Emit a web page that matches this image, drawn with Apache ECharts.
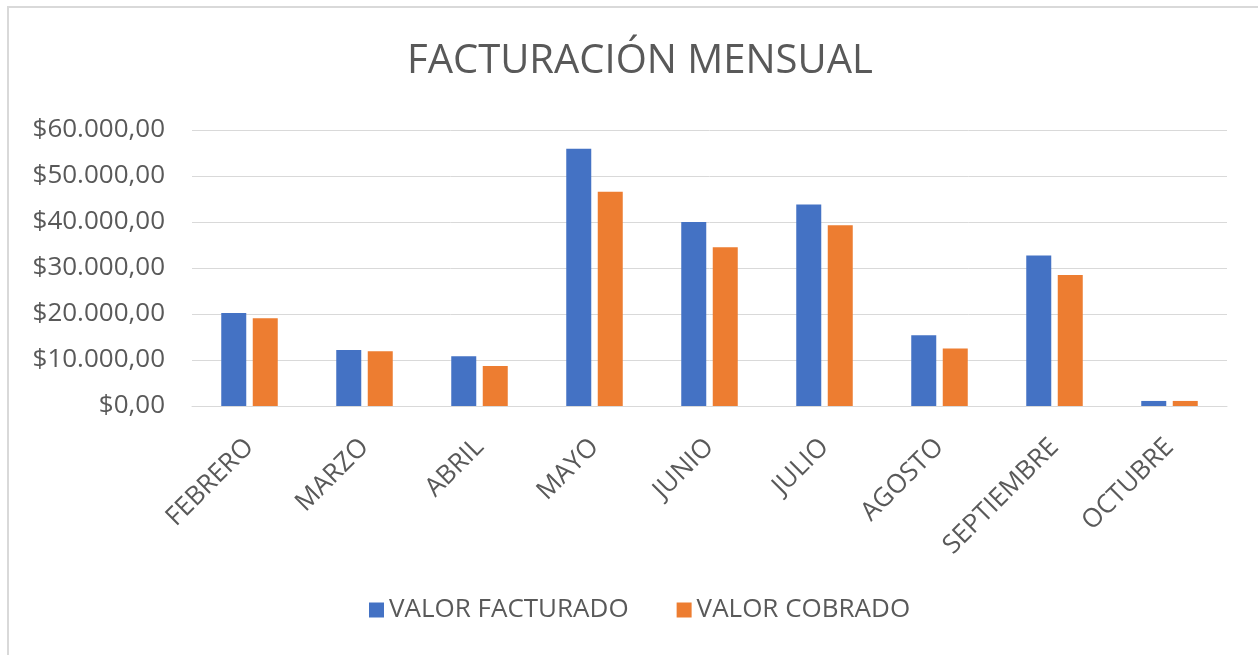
<!DOCTYPE html>
<html>
<head>
<meta charset="utf-8">
<script src="https://cdn.jsdelivr.net/npm/echarts@6/dist/echarts.min.js"></script>
<style>
  html, body { margin: 0; padding: 0; background: #fff; }
  #chart { width: 1258px; height: 655px; }
</style>
</head>
<body>
<div id="chart"></div>
<script>
const months = ['FEBRERO', 'MARZO', 'ABRIL', 'MAYO', 'JUNIO', 'JULIO', 'AGOSTO', 'SEPTIEMBRE', 'OCTUBRE'];
const valorFacturado = [20200, 12200, 10800, 55900, 40000, 43800, 15400, 32700, 1100];
const valorCobrado = [19100, 11900, 8700, 46600, 34500, 39300, 12500, 28500, 1100];

const textColor = '#595959';
const gridColor = '#d9d9d9';
const fontFamily = '"Open Sans", sans-serif';

function money(v) {
    const s = String(Math.round(v)).replace(/\B(?=(\d{3})+(?!\d))/g, '.');
    return '$' + s + ',00';
}

const chart = echarts.init(document.getElementById('chart'));
chart.setOption({
    animation: false,
    textStyle: { fontFamily: fontFamily },
    graphic: [{
        type: 'rect',
        shape: { x: 8, y: 7, width: 1300, height: 700 },
        style: { fill: 'none', stroke: gridColor, lineWidth: 2 },
        silent: true
    }],
    title: {
        text: 'FACTURACIÓN MENSUAL',
        left: 402,
        top: 37,
        textStyle: { color: textColor, fontSize: 40, fontWeight: 'normal', fontFamily: fontFamily }
    },
    legend: {
        top: 592,
        left: 364,
        itemWidth: 15,
        itemHeight: 15,
        itemGap: 48,
        icon: 'rect',
        textStyle: { color: textColor, fontSize: 26, fontFamily: fontFamily }
    },
    grid: { left: 192, right: 31, top: 130, bottom: 249, containLabel: false },
    xAxis: {
        type: 'category',
        data: months,
        axisLine: { lineStyle: { color: gridColor, width: 1 } },
        axisTick: { show: false },
        axisLabel: { rotate: 45, margin: 37, color: textColor, fontSize: 26, interval: 0 }
    },
    yAxis: {
        type: 'value',
        min: 0,
        max: 60000,
        interval: 10000,
        axisLine: { show: false },
        axisTick: { show: false },
        splitLine: { lineStyle: { color: gridColor, width: 1 } },
        axisLabel: { margin: 27, color: textColor, fontSize: 26, formatter: money }
    },
    series: [
        {
            name: 'VALOR FACTURADO',
            type: 'bar',
            data: valorFacturado,
            barWidth: 25,
            barGap: '26%',
            itemStyle: { color: '#4472c4' }
        },
        {
            name: 'VALOR COBRADO',
            type: 'bar',
            data: valorCobrado,
            barWidth: 25,
            itemStyle: { color: '#ed7d31' }
        }
    ]
});
</script>
</body>
</html>
